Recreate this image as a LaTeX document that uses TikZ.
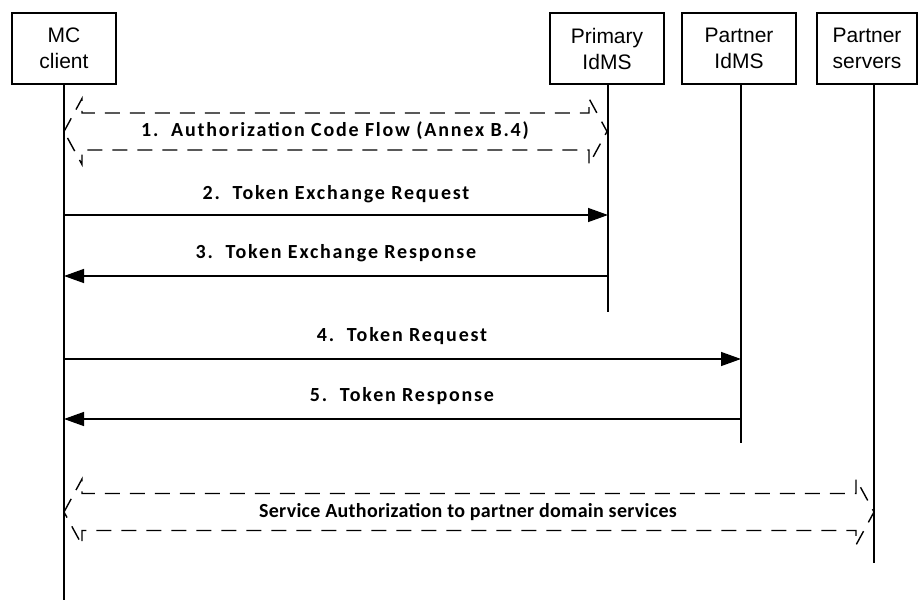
\documentclass[tikz,border=0pt]{standalone}
\usepackage{fontspec}
\setmainfont{Liberation Sans}
\newfontfamily\lblfont[LetterSpace=9]{Carlito}
\newfontfamily\svcfont[LetterSpace=1.5]{Carlito}
\usetikzlibrary{arrows.meta}
\begin{document}
\begin{tikzpicture}[x=1pt,y=-1pt,
  entity/.style={draw,line width=1.6pt,inner sep=0pt,align=center,
    font=\fontsize{21}{26}\selectfont},
  lifeline/.style={line width=1.6pt},
  msg/.style={line width=1.4pt,-{Triangle[length=20pt,width=14pt]}},
  lbl/.style={font=\lblfont\bfseries\fontsize{20}{23}\selectfont,inner sep=0pt},
  svclbl/.style={font=\svcfont\bfseries\fontsize{20}{23}\selectfont,inner sep=0pt},
  blockarrow/.style={line width=1.4pt,dash pattern=on 15pt off 10pt,line join=miter}]
\useasboundingbox (0,0) rectangle (919,600);
% participants
\node[entity,minimum width=104pt,minimum height=71pt] (mc) at (64,48.5) {MC\\client};
\node[entity,minimum width=114pt,minimum height=71pt] (pri) at (607,48.5) {Primary\\IdMS};
\node[entity,minimum width=114pt,minimum height=71pt] (pidms) at (739,48.5) {Partner\\IdMS};
\node[entity,minimum width=100pt,minimum height=71pt] (psrv) at (867,48.5) {Partner\\servers};
% lifeline ends
\coordinate (mcend) at (64,600);
\coordinate (pritop) at (608,84);
\coordinate (priend) at (608,312);
\coordinate (pidtop) at (741,84);
\coordinate (pidend) at (741,443);
\coordinate (pstop) at (874,84);
\coordinate (psend) at (874,563);
\draw[lifeline] (mc.south) -- (mcend);
\draw[lifeline] (pritop) -- (priend);
\draw[lifeline] (pidtop) -- (pidend);
\draw[lifeline] (pstop) -- (psend);
% 1. dashed double block arrow
\coordinate (a1l) at (64,131.5);
\coordinate (a1r) at (607,131.5);
\draw[blockarrow] (a1l) -- ++(18,-33) -- ++(0,14.5) -- (589,113) -- (589,98.5) -- (a1r)
  -- (589,164.5) -- (589,150) -- (82,150) -- (82,164.5) -- cycle;
\node[lbl] (t1) at (335,131) {1.\ \ Authorization Code Flow (Annex B.4)};
% 2
\coordinate (m2a) at (64,215);
\coordinate (m2b) at (608,215);
\draw[msg] (m2a) -- (m2b);
\node[lbl] (t2) at (336,194) {2.\ \ Token Exchange Request};
% 3
\coordinate (m3a) at (608,276);
\coordinate (m3b) at (64,276);
\draw[msg] (m3a) -- (m3b);
\node[lbl] (t3) at (336,253) {3.\ \ Token Exchange Response};
% 4
\coordinate (m4a) at (64,359);
\coordinate (m4b) at (741,359);
\draw[msg] (m4a) -- (m4b);
\node[lbl] (t4) at (402,336) {4.\ \ Token Request};
% 5
\coordinate (m5a) at (741,419);
\coordinate (m5b) at (64,419);
\draw[msg] (m5a) -- (m5b);
\node[lbl] (t5) at (402,396) {5.\ \ Token Response};
% service authorization
\coordinate (a6l) at (64,512);
\coordinate (a6r) at (874,512);
\draw[blockarrow] (a6l) -- ++(18,-33) -- ++(0,14.5) -- (856,493.5) -- (856,479) -- (a6r)
  -- (856,545) -- (856,530.5) -- (82,530.5) -- (82,545) -- cycle;
\node[svclbl] (t6) at (468,512) {Service Authorization to partner domain services};
\end{tikzpicture}
\end{document}
